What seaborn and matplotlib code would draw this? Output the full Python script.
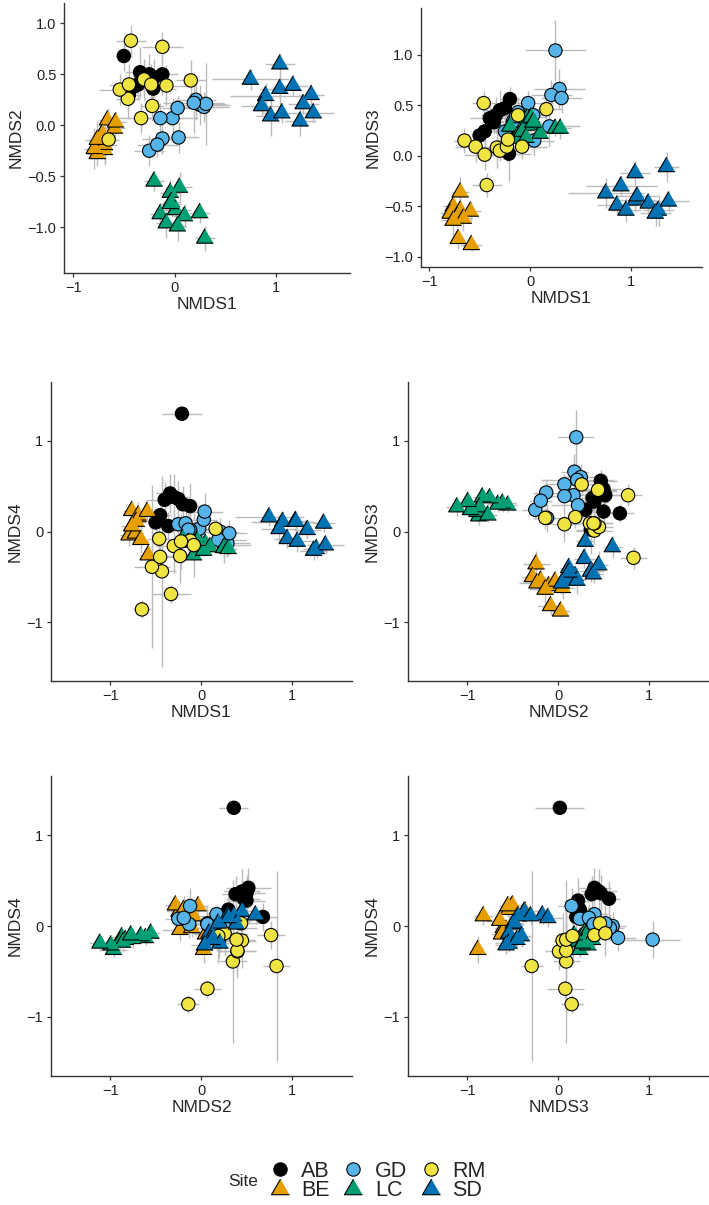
import matplotlib
matplotlib.use("Agg")
import matplotlib.pyplot as plt
from matplotlib.lines import Line2D
import seaborn as sns
import pandas as pd

# NMDS site scores (mean) and their sd, per site
ab_n1 = [-0.21, -0.50, -0.34, -0.30, -0.25, -0.40, -0.20, -0.12, -0.45, -0.36]
ab_n2 = [0.36, 0.68, 0.52, 0.45, 0.50, 0.38, 0.47, 0.50, 0.30, 0.40]
ab_n3 = [0.02, 0.20, 0.40, 0.45, 0.47, 0.37, 0.56, 0.22, 0.24, 0.33]
ab_n4 = [1.30, 0.10, 0.42, 0.38, 0.36, 0.35, 0.30, 0.28, 0.18, 0.06]
ab_sd1 = [0.22, 0.08, 0.15, 0.18, 0.12, 0.20, 0.10, 0.15, 0.12, 0.10]
ab_sd2 = [0.16, 0.15, 0.25, 0.20, 0.20, 0.15, 0.18, 0.20, 0.12, 0.15]
ab_sd3 = [0.27, 0.10, 0.18, 0.20, 0.15, 0.15, 0.12, 0.15, 0.18, 0.12]
ab_sd4 = [0.03, 0.15, 0.22, 0.25, 0.20, 0.20, 0.20, 0.25, 0.15, 0.15]

be_n1 = [-0.69, -0.76, -0.69, -0.79, -0.72, -0.59, -0.66, -0.71, -0.58, -0.76]
be_n2 = [-0.24, -0.28, -0.19, -0.23, -0.10, -0.03, 0.05, -0.08, 0.03, -0.14]
be_n3 = [-0.36, -0.50, -0.54, -0.57, -0.60, -0.55, -0.62, -0.82, -0.88, -0.64]
be_n4 = [0.16, 0.23, 0.18, -0.04, -0.02, 0.22, -0.09, 0.11, -0.26, 0.06]
be_sd1 = [0.08, 0.10, 0.12, 0.10, 0.08, 0.10, 0.08, 0.06, 0.10, 0.12]
be_sd2 = [0.15, 0.12, 0.18, 0.20, 0.15, 0.10, 0.12, 0.15, 0.10, 0.18]
be_sd3 = [0.15, 0.10, 0.12, 0.08, 0.10, 0.10, 0.12, 0.10, 0.06, 0.15]
be_sd4 = [0.12, 0.10, 0.15, 0.12, 0.10, 0.10, 0.15, 0.10, 0.15, 0.12]

gd_n1 = [0.25, 0.29, 0.21, 0.31, -0.02, -0.12, 0.03, 0.19, 0.04, -0.25, -0.17, -0.14]
gd_n2 = [0.20, 0.18, 0.25, 0.21, 0.07, -0.13, 0.17, 0.22, -0.12, -0.25, -0.19, 0.07]
gd_n3 = [1.04, 0.66, 0.60, 0.57, 0.52, 0.43, 0.40, 0.29, 0.15, 0.24, 0.34, 0.39]
gd_n4 = [-0.15, -0.13, 0.00, -0.02, 0.03, 0.02, 0.13, -0.09, 0.22, 0.08, 0.09, 0.02]
gd_sd1 = [0.30, 0.25, 0.20, 0.20, 0.25, 0.20, 0.15, 0.30, 0.20, 0.15, 0.20, 0.15]
gd_sd2 = [0.20, 0.15, 0.20, 0.40, 0.20, 0.15, 0.12, 0.30, 0.15, 0.15, 0.12, 0.15]
gd_sd3 = [0.30, 0.20, 0.15, 0.15, 0.12, 0.15, 0.15, 0.20, 0.15, 0.10, 0.15, 0.12]
gd_sd4 = [0.20, 0.15, 0.15, 0.15, 0.20, 0.15, 0.10, 0.15, 0.20, 0.12, 0.15, 0.20]

lc_n1 = [-0.20, 0.05, -0.04, -0.03, -0.14, 0.01, 0.10, 0.25, -0.08, 0.03, 0.30, -0.04]
lc_n2 = [-0.55, -0.61, -0.66, -0.75, -0.87, -0.83, -0.89, -0.86, -0.96, -0.99, -1.11, -0.77]
lc_n3 = [0.29, 0.31, 0.30, 0.37, 0.17, 0.38, 0.22, 0.27, 0.24, 0.33, 0.27, 0.18]
lc_n4 = [-0.08, -0.13, -0.11, -0.14, -0.12, -0.15, -0.17, -0.18, -0.26, -0.21, -0.19, -0.10]
lc_sd1 = [0.10, 0.12, 0.10, 0.08, 0.10, 0.15, 0.12, 0.10, 0.10, 0.08, 0.10, 0.10]
lc_sd2 = [0.10, 0.15, 0.12, 0.15, 0.12, 0.10, 0.12, 0.10, 0.15, 0.15, 0.12, 0.10]
lc_sd3 = [0.08, 0.10, 0.08, 0.08, 0.10, 0.08, 0.10, 0.08, 0.10, 0.08, 0.10, 0.08]
lc_sd4 = [0.08, 0.08, 0.06, 0.10, 0.08, 0.06, 0.08, 0.10, 0.08, 0.06, 0.08, 0.06]

rm_n1 = [-0.65, -0.33, -0.43, -0.12, 0.16, -0.46, -0.54, -0.45, -0.30, -0.23, -0.08, -0.22]
rm_n2 = [-0.14, 0.07, 0.83, 0.77, 0.44, 0.26, 0.35, 0.40, 0.45, 0.40, 0.39, 0.19]
rm_n3 = [0.15, 0.08, -0.29, 0.40, 0.46, 0.52, 0.09, 0.01, 0.05, 0.09, 0.09, 0.16]
rm_n4 = [-0.86, -0.69, -0.44, -0.10, 0.03, -0.08, -0.39, -0.28, -0.16, -0.27, -0.15, -0.11]
rm_sd1 = [0.10, 0.22, 0.15, 0.20, 0.15, 0.12, 0.20, 0.20, 0.20, 0.15, 0.25, 0.12]
rm_sd2 = [0.12, 0.15, 0.15, 0.15, 0.20, 0.20, 0.15, 0.20, 0.15, 0.20, 0.20, 0.15]
rm_sd3 = [0.12, 0.20, 0.12, 0.12, 0.15, 0.12, 0.15, 0.15, 0.10, 0.15, 0.12, 0.12]
rm_sd4 = [0.10, 0.10, 1.05, 0.15, 0.10, 0.25, 0.90, 0.20, 0.30, 0.30, 0.35, 0.30]

sd_n1 = [0.75, 1.04, 0.90, 1.04, 1.17, 1.35, 0.86, 0.95, 1.06, 1.27, 1.37, 1.24]
sd_n2 = [0.45, 0.60, 0.29, 0.36, 0.39, 0.30, 0.19, 0.09, 0.12, 0.21, 0.12, 0.04]
sd_n3 = [-0.37, -0.17, -0.30, -0.44, -0.47, -0.11, -0.49, -0.54, -0.40, -0.54, -0.45, -0.57]
sd_n4 = [0.16, 0.12, 0.11, 0.11, 0.02, 0.09, 0.03, -0.08, -0.11, -0.19, -0.15, -0.21]
sd_sd1 = [0.38, 0.15, 0.35, 0.20, 0.15, 0.12, 0.20, 0.15, 0.20, 0.15, 0.20, 0.15]
sd_sd2 = [0.10, 0.10, 0.12, 0.15, 0.10, 0.10, 0.10, 0.20, 0.10, 0.10, 0.10, 0.15]
sd_sd3 = [0.15, 0.12, 0.10, 0.12, 0.10, 0.15, 0.10, 0.12, 0.10, 0.15, 0.10, 0.12]
sd_sd4 = [0.10, 0.10, 0.10, 0.12, 0.10, 0.10, 0.15, 0.10, 0.12, 0.10, 0.10, 0.10]

sites = ["AB", "BE", "GD", "LC", "RM", "SD"]
colors = {"AB": "#000000", "BE": "#E69F00", "GD": "#56B4E9",
          "LC": "#009E73", "RM": "#F0E442", "SD": "#0072B2"}
# equilateral triangle like ggplot's shape 24
tri = [(0.0, 0.577), (-0.5, -0.289), (0.5, -0.289)]
markers = {"AB": "o", "BE": tri, "GD": "o", "LC": tri, "RM": "o", "SD": tri}
sizes = {"AB": 92, "BE": 195, "GD": 92, "LC": 195, "RM": 92, "SD": 195}

site_data = {
    "AB": (ab_n1, ab_n2, ab_n3, ab_n4, ab_sd1, ab_sd2, ab_sd3, ab_sd4),
    "BE": (be_n1, be_n2, be_n3, be_n4, be_sd1, be_sd2, be_sd3, be_sd4),
    "GD": (gd_n1, gd_n2, gd_n3, gd_n4, gd_sd1, gd_sd2, gd_sd3, gd_sd4),
    "LC": (lc_n1, lc_n2, lc_n3, lc_n4, lc_sd1, lc_sd2, lc_sd3, lc_sd4),
    "RM": (rm_n1, rm_n2, rm_n3, rm_n4, rm_sd1, rm_sd2, rm_sd3, rm_sd4),
    "SD": (sd_n1, sd_n2, sd_n3, sd_n4, sd_sd1, sd_sd2, sd_sd3, sd_sd4),
}

cols = ["NMDS1", "NMDS2", "NMDS3", "NMDS4", "sd1", "sd2", "sd3", "sd4"]
frames = []
for s in sites:
    d = pd.DataFrame(dict(zip(cols, site_data[s])))
    d["Site"] = s
    frames.append(d)
df = pd.concat(frames, ignore_index=True)

sns.set_style("ticks")
plt.rcParams["font.family"] = ["Liberation Sans", "DejaVu Sans"]

W, H = 709, 1205
fig = plt.figure(figsize=(W / 100, H / 100), dpi=100)


def box(l, r, t, b):
    return [l / W, 1 - b / H, (r - l) / W, (b - t) / H]


# (x, y, axes box in px, xlim, ylim, yticks)
panels = [
    (1, 2, box(64, 350, 3, 273), (-1.09, 1.73), (-1.45, 1.2), [-1.0, -0.5, 0.0, 0.5, 1.0]),
    (1, 3, box(421, 702, 8, 267), (-1.08, 1.70), (-1.10, 1.46), [-1.0, -0.5, 0.0, 0.5, 1.0]),
    (1, 4, box(51, 352, 382, 681), (-1.65, 1.66), (-1.65, 1.65), [-1, 0, 1]),
    (2, 3, box(408, 709, 382, 681), (-1.65, 1.66), (-1.65, 1.65), [-1, 0, 1]),
    (2, 4, box(51, 352, 776, 1076), (-1.65, 1.66), (-1.65, 1.65), [-1, 0, 1]),
    (3, 4, box(408, 709, 776, 1076), (-1.65, 1.66), (-1.65, 1.65), [-1, 0, 1]),
]

for xi, yi, rect, xlim, ylim, yt in panels:
    ax = fig.add_axes(rect)
    xc, yc = f"NMDS{xi}", f"NMDS{yi}"
    ax.errorbar(df[xc], df[yc], xerr=df[f"sd{xi}"], yerr=df[f"sd{yi}"],
                fmt="none", ecolor="#bbbbbb", elinewidth=1.0, capsize=0, zorder=1)
    sns.scatterplot(data=df, x=xc, y=yc, hue="Site", style="Site", size="Site",
                    palette=colors, markers=markers, sizes=sizes,
                    edgecolor="black", linewidth=0.8, legend=False, ax=ax, zorder=2)
    ax.set_xlim(xlim)
    ax.set_ylim(ylim)
    ax.set_xticks([-1, 0, 1])
    ax.set_xticklabels(["\u22121", "0", "1"])
    ax.set_yticks(yt)
    if isinstance(yt[0], float):
        ax.set_yticklabels([f"{v:.1f}".replace("-", "\u2212") for v in yt])
    else:
        ax.set_yticklabels(["\u22121", "0", "1"])
    ax.tick_params(labelsize=10.5, colors="#333333", length=3, width=0.9,
                   pad=2.5, labelcolor="#222222")
    ax.set_xlabel(xc, fontsize=12.5, labelpad=2)
    ax.set_ylabel(yc, fontsize=12.5, labelpad=3)
    sns.despine(ax=ax)
    for sp in ["left", "bottom"]:
        ax.spines[sp].set_linewidth(1.0)
        ax.spines[sp].set_color("#333333")

handles = [Line2D([], [], ls="", marker=markers[s], markersize=15 if s in ("BE", "LC", "SD") else 9.6,
                  markerfacecolor=colors[s], markeredgecolor="black", markeredgewidth=0.8,
                  label=s) for s in sites]
fig.legend(handles=handles, ncol=3, loc="center left", bbox_to_anchor=(258 / W, 1 - 1181 / H),
           frameon=False, fontsize=15.5, handlelength=1.0, handletextpad=0.5,
           columnspacing=0.6, labelspacing=-0.05, borderpad=0)
fig.text(243 / W, 1 - 1182 / H, "Site", fontsize=12.5, ha="center", va="center")

fig.savefig("out.png", dpi=100)
